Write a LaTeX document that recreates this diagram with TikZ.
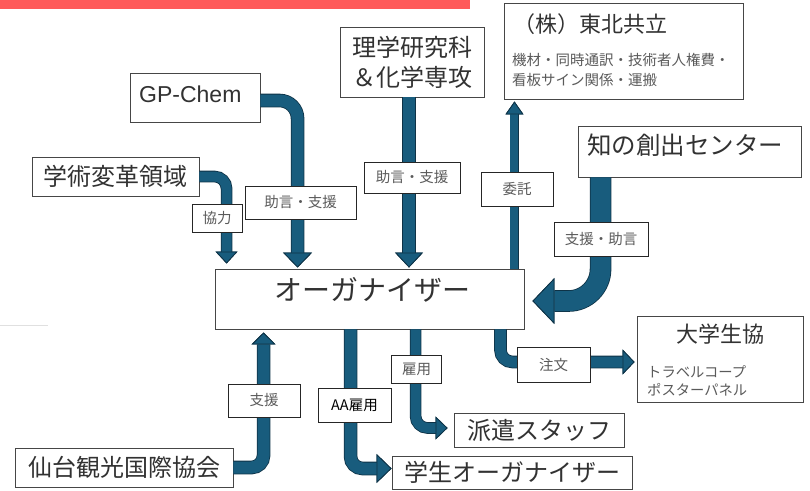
\documentclass[tikz,border=0pt]{standalone}
\usepackage{fontspec}
\setmainfont{Noto Sans CJK JP}
\newfontfamily\latinsans{Liberation Sans}
\usetikzlibrary{arrows.meta}
\definecolor{flowblue}{RGB}{24,92,125}
\definecolor{flowdark}{RGB}{14,50,70}
\definecolor{barred}{RGB}{255,90,90}
\definecolor{boxline}{RGB}{70,70,70}
\definecolor{subgray}{RGB}{90,90,90}
\definecolor{maintext}{RGB}{50,50,50}

\begin{document}
\begin{tikzpicture}[
		x=1pt, y=-1pt,
		box/.style={
			draw=boxline, line width=0.9pt, fill=white, inner sep=0pt,
			text=maintext, font=\fontsize{24}{28}\selectfont,
		},
		boxtext/.style={
			inner sep=0pt, text=maintext,
		},
		tag/.style={
			draw=black!85, line width=1pt, fill=white, inner sep=0pt,
			text=subgray, font=\fontsize{14.5}{16}\selectfont,
		},
		flow/.style n args={3}{
			draw=flowblue, line width=#1, rounded corners=12pt,
			-{Triangle[width=#2, length=#3, line width=0.8pt, color=flowdark, fill=flowblue]},
			preaction={draw=flowdark, line width=#1+1.6pt},
		},
	]
		\useasboundingbox (0,0) rectangle (810,490);
		\fill[barred] (0,0) rectangle (470,9);
		\draw[black!12, line width=0.6pt] (0,325) -- (48,325);

		\node[box, minimum width=130, minimum height=49] (gpchem) at (195,97.5) {};
		\node[boxtext, anchor=west, font=\latinsans\fontsize{23}{26}\selectfont] at (139,94) {GP-Chem};
		\node[box, minimum width=167, minimum height=39] (henkaku) at (115.5,176.5) {学術変革領域};
		\node[box, minimum width=144, minimum height=70, align=center, font=\fontsize{24}{30}\selectfont] (rigaku) at (412,62) {理学研究科\\＆化学専攻};
		\node[box, minimum width=239, minimum height=96] (tohoku) at (623.5,51) {};
		\node[boxtext, anchor=west, font=\fontsize{22}{26}\selectfont] at (513,24) {（株）東北共立};
		\node[anchor=west, inner sep=0pt, align=left, text=subgray, font=\fontsize{14.5}{20}\selectfont] at (512,70) {機材・同時通訳・技術者人権費・\\看板サイン関係・運搬};
		\node[box, minimum width=223, minimum height=51] (chi) at (689.5,151.5) {};
		\node[boxtext, anchor=west, font=\fontsize{24.5}{28}\selectfont] at (587,145) {知の創出センター};
		\node[box, minimum width=309, minimum height=60] (org) at (369.5,299) {};
		\node[boxtext, font=\fontsize{28}{30}\selectfont] at (372,290) {オーガナイザー};
		\node[box, minimum width=166, minimum height=86] (seikyo) at (720,359) {};
		\node[boxtext, font=\fontsize{22}{26}\selectfont] at (720,334) {大学生協};
		\node[anchor=west, inner sep=0pt, align=left, text=subgray, font=\fontsize{14.3}{18}\selectfont] at (647,381) {トラベルコープ\\ポスターパネル};
		\node[box, minimum width=170, minimum height=34] (haken) at (539,430) {派遣スタッフ};
		\node[box, minimum width=240, minimum height=33] (gakusei) at (512,472.5) {学生オーガナイザー};
		\node[box, minimum width=218, minimum height=39] (sendai) at (124,467.5) {仙台観光国際協会};

		\draw[flow={10pt}{22pt}{12pt}, shorten >=5pt] (henkaku.east) -| ([xshift=12pt]org.north west);
		\draw[flow={12pt}{29pt}{15pt}, rounded corners=18pt, shorten >=1pt] ([yshift=-3pt]gpchem.east) -| ([xshift=83pt]org.north west);
		\draw[flow={12pt}{28pt}{15pt}, shorten >=1pt] ([xshift=-3pt]rigaku.south) -- ([xshift=-3pt]rigaku.south |- org.north);
		\draw[flow={8pt}{18pt}{13pt}, shorten >=2pt] ([xshift=-10pt]org.north east) -- ([xshift=-10pt]org.north east |- tohoku.south);
		\draw[flow={20pt}{46pt}{22pt}, rounded corners=32pt, shorten >=8pt] ([xshift=23pt]chi.south west) |- ([yshift=-2pt]org.east);
		\draw[flow={11pt}{25pt}{12pt}, shorten >=2pt] ([xshift=-24pt]org.south east) |- ([yshift=-3pt]seikyo.west);
		\draw[flow={10pt}{23pt}{12pt}, shorten >=6pt] ([xshift=201pt]org.south west) |- ([yshift=2pt]haken.west);
		\draw[flow={12pt}{29pt}{15pt}] ([xshift=136pt]org.south west) |- ([yshift=4pt]gakusei.west);
		\draw[flow={12pt}{24pt}{12pt}, shorten >=3pt] (sendai.east) -| ([xshift=49pt]org.south west);

		\node[tag, minimum width=50, minimum height=28] (kyoryoku) at (217,218) {協力};
		\node[tag, minimum width=111, minimum height=33] (jogen) at (300.5,202.5) {助言・支援};
		\node[tag, minimum width=96, minimum height=31] (jogenb) at (412,177.5) {助言・支援};
		\node[tag, minimum width=72, minimum height=34] (itaku) at (517,189) {委託};
		\node[tag, minimum width=94, minimum height=34] (shienjogen) at (601,239) {支援・助言};
		\node[tag, minimum width=72, minimum height=33] (shien) at (264,400.5) {支援};
		\node[tag, minimum width=73, minimum height=34, text=black] (aakoyo) at (354.5,405) {AA雇用};
		\node[tag, minimum width=50, minimum height=28] (koyo) at (416.5,369.5) {雇用};
		\node[tag, minimum width=73, minimum height=35] (chumon) at (553.5,364.5) {注文};
	\end{tikzpicture}
\end{document}
